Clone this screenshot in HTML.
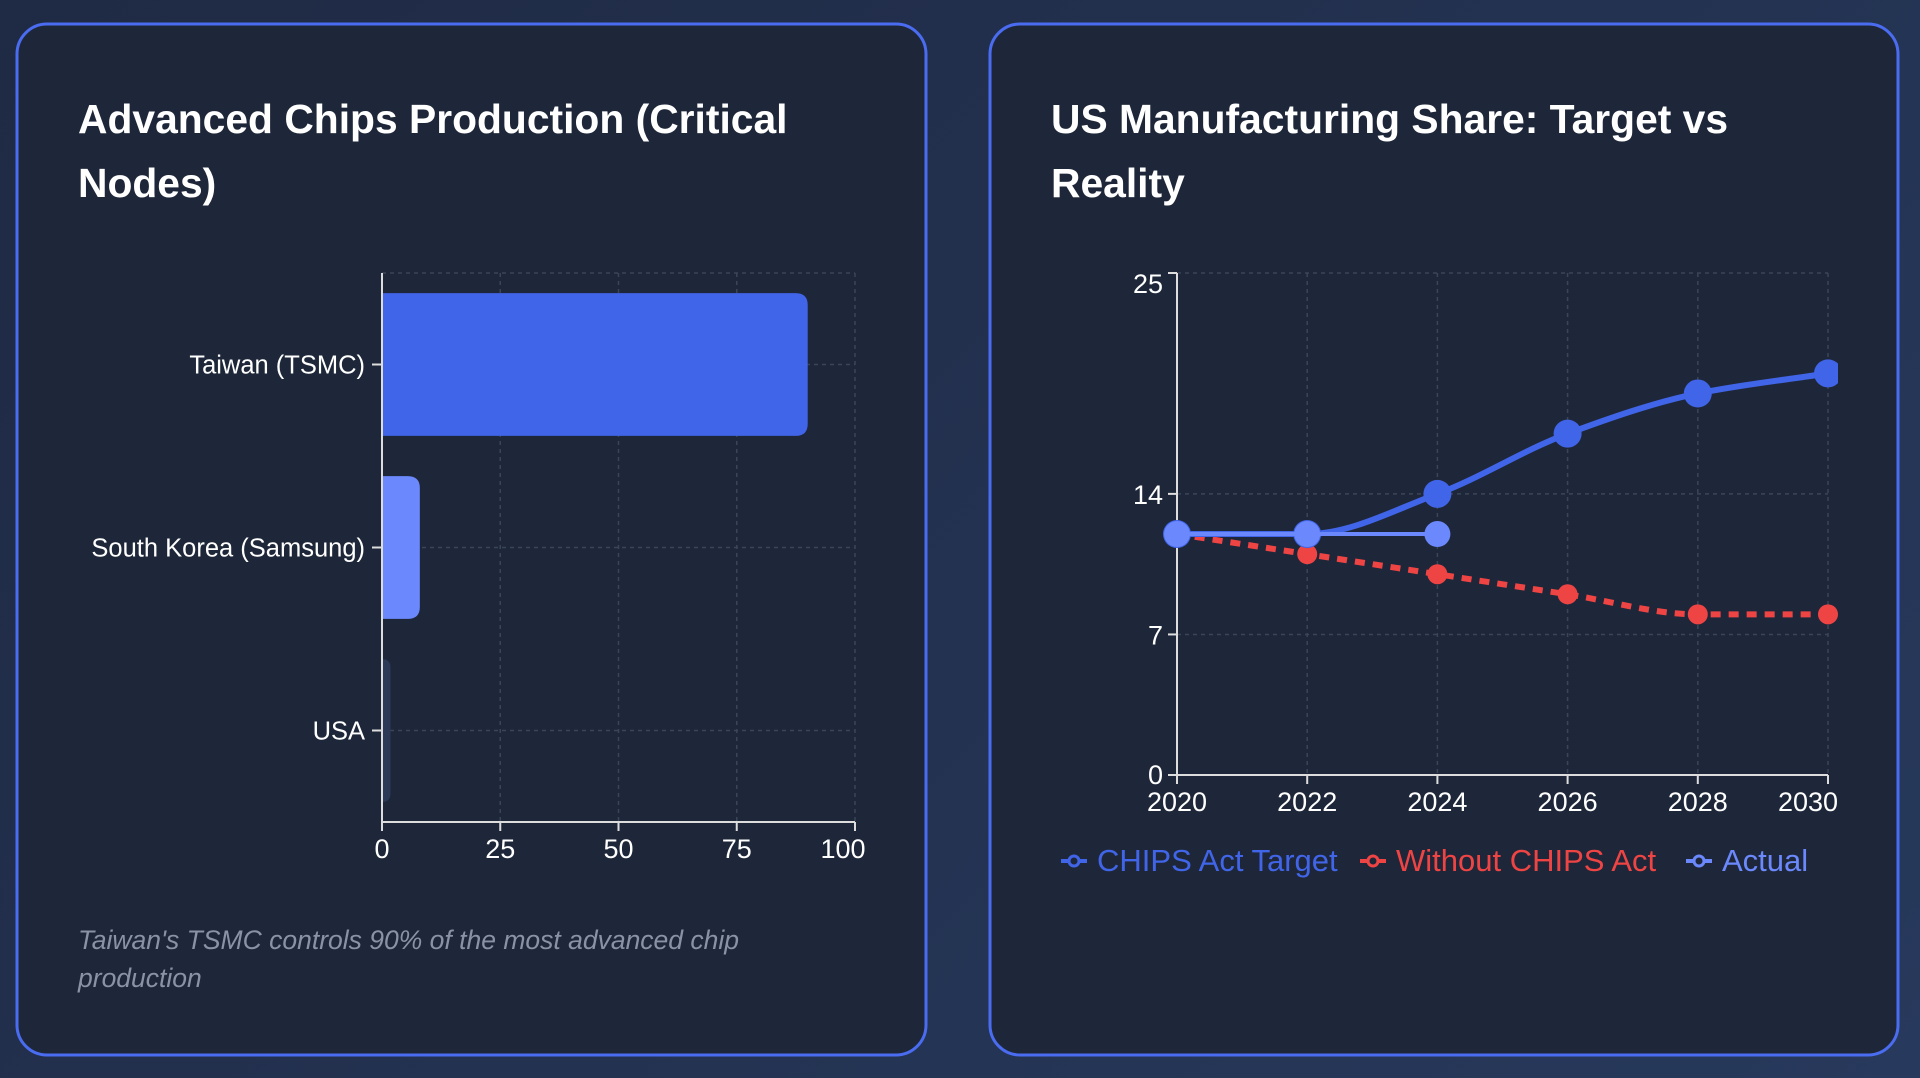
<!DOCTYPE html>
<html><head><meta charset="utf-8"><style>
html,body{margin:0;padding:0;width:1920px;height:1078px;overflow:hidden;background:linear-gradient(135deg,#1f2a44,#27395c);font-family:"Liberation Sans",sans-serif}
svg{display:block}
</style></head><body>
<svg id="root" width="1920" height="1078" xmlns="http://www.w3.org/2000/svg">
<defs><clipPath id="lc"><rect x="1150" y="250" width="688" height="560"/></clipPath></defs>
<rect x="17" y="24" width="909" height="1031" rx="30" fill="#1e2739" stroke="#4a6cf0" stroke-width="3"/>
<rect x="990" y="24" width="908" height="1031" rx="30" fill="#1e2739" stroke="#4a6cf0" stroke-width="3"/>
<text x="78" y="133" fill="#fff" font-size="40.8" font-weight="bold"><tspan x="78">Advanced Chips Production (Critical</tspan><tspan x="78" dy="64">Nodes)</tspan></text>
<text x="1051" y="133" fill="#fff" font-size="40.8" font-weight="bold"><tspan x="1051">US Manufacturing Share: Target vs</tspan><tspan x="1051" dy="64">Reality</tspan></text>
<text x="78" y="949" fill="#8a93a6" font-size="26.5" font-style="italic"><tspan x="78">Taiwan's TSMC controls 90% of the most advanced chip</tspan><tspan x="78" dy="38">production</tspan></text>
<g id="bar"></g>
<g id="line"></g>
</svg>
<script>
const barCats=["Taiwan (TSMC)","South Korea (Samsung)","USA"];
const barVals=[90,8,1.8];
const barTicks=[0,25,50,75,100];
const lineYears=[2020,2022,2024,2026,2028,2030];
const targetVals=[12,12,14,17,19,20];
const withoutVals=[12,11,10,9,8,8];
const actualVals=[12,12,12];
const lineYTicks=[0,7,14,25];

const NS="http://www.w3.org/2000/svg";
function mk(p,t,a,txt){const e=document.createElementNS(NS,t);for(const k in a)e.setAttribute(k,a[k]);if(txt!=null)e.textContent=txt;p.appendChild(e);return e;}
const G="#3b4558";
const bg=document.getElementById('bar');
const bx0=382,bx1=855,by0=273,by1=822;
const bx=v=>bx0+(v-0)/(100-0)*(bx1-bx0);
const band=(by1-by0)/barCats.length;
const byc=i=>by0+band*(i+0.5);
mk(bg,'line',{x1:bx0,y1:by0,x2:bx1,y2:by0,stroke:G,'stroke-width':1.5,'stroke-dasharray':'4 4'});
barTicks.forEach(t=>{if(t>0){const l=mk(bg,'line',{x1:bx(t),y1:by0,x2:bx(t),y2:by1,stroke:G,'stroke-width':1.5,'stroke-dasharray':'4 4'});}});
barCats.forEach((c,i)=>{mk(bg,'line',{x1:bx0,y1:byc(i),x2:bx1,y2:byc(i),stroke:G,'stroke-width':1.5,'stroke-dasharray':'4 4'});});
const barColors=["#4165e8","#6b88fd","#2c3a58"];
barCats.forEach((c,i)=>{
 const h=band*0.78,w=bx(barVals[i])-bx0,r=Math.min(12,w);
 const y=byc(i)-h/2;
 const p=mk(bg,'path',{d:`M${bx0},${y}H${bx0+w-r}Q${bx0+w},${y} ${bx0+w},${y+r}V${y+h-r}Q${bx0+w},${y+h} ${bx0+w-r},${y+h}H${bx0}Z`,fill:barColors[i]});
 
 
 mk(bg,'line',{x1:bx0-10,y1:byc(i),x2:bx0,y2:byc(i),stroke:'#ddd','stroke-width':2});
 const t=mk(bg,'text',{x:bx0-17,y:byc(i)+9,fill:'#fff','font-size':25.5,'text-anchor':'end'},c);
 
 
});
mk(bg,'line',{x1:bx0,y1:by0,x2:bx0,y2:by1,stroke:'#ddd','stroke-width':2});
mk(bg,'line',{x1:bx0,y1:by1,x2:bx1,y2:by1,stroke:'#ddd','stroke-width':2});
barTicks.forEach(t=>{mk(bg,'line',{x1:bx(t),y1:by1,x2:bx(t),y2:by1+9,stroke:'#ddd','stroke-width':2});
 const tx=mk(bg,'text',{x:t===100?bx(t)-12:bx(t),y:by1+36,fill:'#fff','font-size':27,'text-anchor':'middle'},t);
 
 });
const lg=document.getElementById('line');
const lx0=1177,lx1=1828,ly0=775,ly1=273;
const lx=y=>lx0+(y-2020)/(2030-2020)*(lx1-lx0);
const ly=v=>ly0+(v-0)/(25-0)*(ly1-ly0);
lineYears.forEach(y=>{if(y>2020)mk(lg,'line',{x1:lx(y),y1:ly1,x2:lx(y),y2:ly0,stroke:G,'stroke-width':1.5,'stroke-dasharray':'4 4'});});
lineYTicks.forEach(v=>{if(v>0)mk(lg,'line',{x1:lx0,y1:ly(v),x2:lx1,y2:ly(v),stroke:G,'stroke-width':1.5,'stroke-dasharray':'4 4'});});
mk(lg,'line',{x1:lx0,y1:ly1,x2:lx0,y2:ly0,stroke:'#ddd','stroke-width':2});
mk(lg,'line',{x1:lx0,y1:ly0,x2:lx1,y2:ly0,stroke:'#ddd','stroke-width':2});
lineYTicks.forEach(v=>{mk(lg,'line',{x1:lx0-9,y1:ly(v),x2:lx0,y2:ly(v),stroke:'#ddd','stroke-width':2});
 const t=mk(lg,'text',{x:lx0-14,y:ly(v)+(v===25?20:v===0?9:10),fill:'#fff','font-size':27,'text-anchor':'end'},v);
 
 });
lineYears.forEach((y,i)=>{mk(lg,'line',{x1:lx(y),y1:ly0,x2:lx(y),y2:ly0+9,stroke:'#ddd','stroke-width':2});
 const t=mk(lg,'text',{x:i===5?lx(y)-20:lx(y),y:ly0+36,fill:'#fff','font-size':27,'text-anchor':'middle'},y);
 
 });
function mono(xs,ys){const n=xs.length;if(n<2)return'';const d=[],m=new Array(n);for(let i=0;i<n-1;i++)d.push((ys[i+1]-ys[i])/(xs[i+1]-xs[i]));
 m[0]=d[0];m[n-1]=d[n-2];
 for(let i=1;i<n-1;i++){if(d[i-1]*d[i]<=0)m[i]=0;else{const h0=xs[i]-xs[i-1],h1=xs[i+1]-xs[i];m[i]=3*(h0+h1)/((2*h1+h0)/d[i-1]+(h1+2*h0)/d[i]);}}
 let s=`M${xs[0]},${ys[0]}`;for(let i=0;i<n-1;i++){const h=(xs[i+1]-xs[i])/3;s+=`C${xs[i]+h},${ys[i]+m[i]*h} ${xs[i+1]-h},${ys[i+1]-m[i+1]*h} ${xs[i+1]},${ys[i+1]}`;}return s;}
const cg=mk(lg,'g',{'clip-path':'url(#lc)'});
function series(vals,color,w,dash,r,name){
 const xs=vals.map((v,i)=>lx(lineYears[i])),ys=vals.map(ly);
 const p=mk(cg,'path',{d:mono(xs,ys),fill:'none',stroke:color,'stroke-width':w});
 if(dash)p.setAttribute('stroke-dasharray',dash);
 
 
 vals.forEach((v,i)=>{const c=mk(cg,'circle',{cx:xs[i],cy:ys[i],r:r,fill:color});
  
  });
}
series(withoutVals,'#ef4444',6,'10 8',10,'without-chips');
series(targetVals,'#4165e8',6,null,14,'chips-target');
series(actualVals,'#6b88fd',4,null,13,'actual');
const leg=[["CHIPS Act Target","#4165e8",1061],["Without CHIPS Act","#ef4444",1360],["Actual","#6b88fd",1686]];
leg.forEach(l=>{const g=mk(lg,'g',{});
 
 
 mk(g,'line',{x1:l[2],y1:861,x2:l[2]+26,y2:861,stroke:l[1],'stroke-width':4});
 mk(g,'circle',{cx:l[2]+13,cy:861,r:5,fill:'#1e2739',stroke:l[1],'stroke-width':3});
 mk(g,'text',{x:l[2]+36,y:871,fill:l[1],'font-size':31},l[0]);});
</script>
</body></html>
